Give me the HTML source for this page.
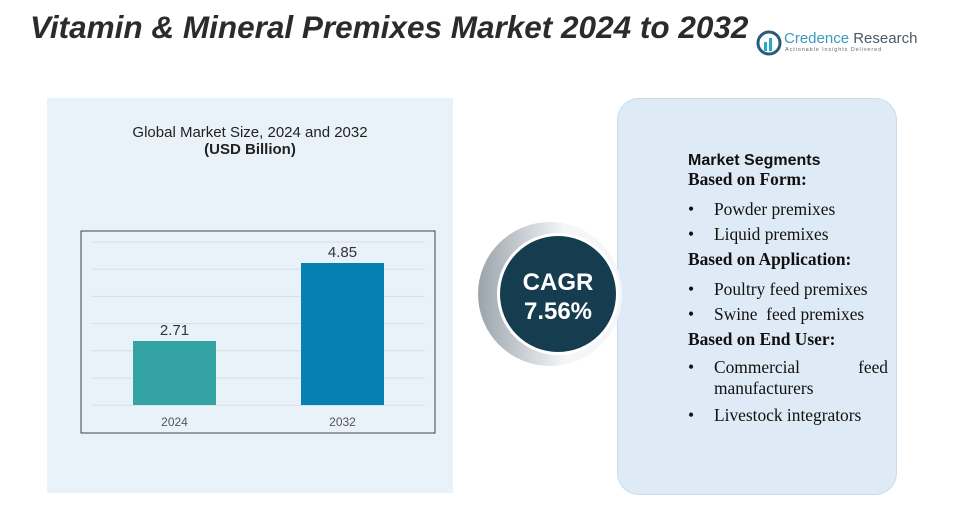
<!DOCTYPE html>
<html><head><meta charset="utf-8"><style>
body{margin:0;width:972px;height:531px;background:#fff;position:relative;overflow:hidden;font-family:"Liberation Sans",sans-serif}
.abs{position:absolute}
.seg{font-family:"Liberation Serif",serif;font-size:17.4px;color:#111}
.b{display:inline-block;width:26px}
</style></head><body>
<div class="abs" style="left:30px;top:9px;font-size:31.5px;font-weight:bold;font-style:italic;color:#2b2b2b;white-space:nowrap">Vitamin &amp; Mineral Premixes Market 2024 to 2032</div>
<div class="abs" style="left:756px;top:28px;width:170px;height:30px;white-space:nowrap">
<svg width="26" height="26" style="position:absolute;left:0;top:2px"><circle cx="13" cy="13" r="11" fill="none" stroke="#2a5b7a" stroke-width="3"/><rect x="8" y="12" width="3" height="9" fill="#2aa8c8"/><rect x="13" y="8" width="3" height="13" fill="#2aa8c8"/></svg>
<div class="abs" style="left:28px;top:2px;font-size:15px;color:#3a9bc0">Credence <span style="color:#4a5a66">Research</span></div>
<div class="abs" style="left:29px;top:19px;font-size:5.5px;color:#667;letter-spacing:0.9px">Actionable Insights Delivered</div>
</div>
<div class="abs" style="left:47px;top:98px;width:406px;height:395px;background:#eaf2f9"></div>
<div class="abs" style="left:47px;top:124px;width:406px;text-align:center;font-size:15px;color:#222">Global Market Size, 2024 and 2032<br><b>(USD Billion)</b></div>
<svg class="abs" style="left:0;top:0" width="972" height="531" id="chart">
<rect x="81" y="231" width="354" height="202" fill="none" stroke="#444" stroke-width="1"/>
</svg>
<div class="abs" style="left:617px;top:98px;width:278px;height:395px;background:#deebf6;border-radius:22px;border:1px solid #c8dceb"></div>
<svg class="abs" style="left:0;top:0" width="972" height="531">
<defs><linearGradient id="g" x1="0" x2="1"><stop offset="0" stop-color="#9aa4ab"/><stop offset="0.6" stop-color="#f4f6f8"/></linearGradient></defs>
<circle cx="550" cy="294" r="72" fill="url(#g)"/>
<circle cx="558" cy="294" r="61" fill="#fff"/>
<circle cx="558" cy="294" r="58" fill="#163d4f"/>
<text x="558" y="290" text-anchor="middle" fill="#fff" font-size="24" font-weight="bold" font-family="Liberation Sans">CAGR</text>
<text x="558" y="319" text-anchor="middle" fill="#fff" font-size="24" font-weight="bold" font-family="Liberation Sans">7.56%</text>
</svg>
<div class="abs seg" style="left:688px;top:148px;width:200px;line-height:25px">
<div style="font-family:'Liberation Sans',sans-serif;font-weight:bold;font-size:16px">Market Segments</div>
<div style="font-weight:bold;margin-top:-6px">Based on Form:</div>
<div style="margin-top:5px"><span class="b">•</span>Powder premixes</div>
<div><span class="b">•</span>Liquid premixes</div>
<div style="font-weight:bold">Based on Application:</div>
<div style="margin-top:5px"><span class="b">•</span>Poultry feed premixes</div>
<div><span class="b">•</span>Swine&nbsp; feed premixes</div>
<div style="font-weight:bold">Based on End User:</div>
<div style="margin-top:5px;line-height:21px"><span class="b">•</span>Commercial<span style="float:right">feed</span><br><span style="padding-left:26px">manufacturers</span></div>
<div style="margin-top:4px"><span class="b">•</span>Livestock integrators</div>
</div>
<script>
const categories=["2024","2032"];
const values=[2.71,4.85];
const labels=["2.71","4.85"];
const colors=["#33a3a3","#0680b2"];
const svg=document.getElementById('chart');
const NS="http://www.w3.org/2000/svg";
const base=405,k=36.45,v0=0.954;
function yScale(v){return base-(v-v0)*k;}
function xScale(i){return 133+i*168;}
for(let g=0;g<7;g++){const l=document.createElementNS(NS,'line');


const y=242+g*27.2;l.setAttribute('x1',91);l.setAttribute('x2',425);l.setAttribute('y1',y);l.setAttribute('y2',y);l.setAttribute('stroke','#d6dde3');svg.appendChild(l);}
categories.forEach((c,i)=>{
const r=document.createElementNS(NS,'rect');


const x=xScale(i),y=yScale(values[i]);
r.setAttribute('x',x);r.setAttribute('y',y);r.setAttribute('width',83);r.setAttribute('height',base-y);r.setAttribute('fill',colors[i]);svg.appendChild(r);
const t=document.createElementNS(NS,'text');


t.setAttribute('x',x+41.5);t.setAttribute('y',y-6);t.setAttribute('text-anchor','middle');t.setAttribute('font-size','15');t.setAttribute('fill','#333');t.textContent=labels[i];svg.appendChild(t);
const a=document.createElementNS(NS,'text');


a.setAttribute('x',x+41.5);a.setAttribute('y',426);a.setAttribute('text-anchor','middle');a.setAttribute('font-size','12');a.setAttribute('fill','#555');a.textContent=c;svg.appendChild(a);
});
</script>
</body></html>
